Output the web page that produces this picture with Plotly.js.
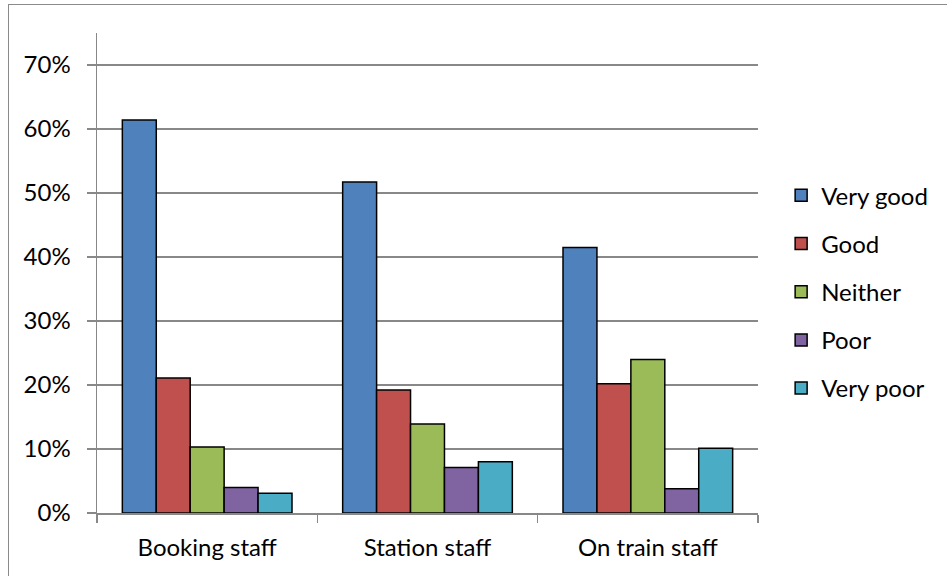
<!DOCTYPE html>
<html>
<head>
<meta charset="utf-8">
<script src="https://cdn.plot.ly/plotly-3.0.1.min.js"></script>
<style>
  html, body { margin: 0; padding: 0; background: #ffffff; overflow: hidden; }
  #chart { position: absolute; left: 0; top: 0; width: 947px; height: 576px; }
  #frame { position: absolute; left: 8px; top: 4px; width: 1000px; height: 700px;
           border-left: 1.5px solid #8a8a8a; border-top: 1.5px solid #8a8a8a;
           pointer-events: none; z-index: 5; }
</style>
</head>
<body>
<div id="chart"></div>
<div id="frame"></div>
<script>
const categories = ["Booking staff", "Station staff", "On train staff"];
const seriesNames = ["Very good", "Good", "Neither", "Poor", "Very poor"];
const veryGood = [0.614, 0.517, 0.415];
const good = [0.211, 0.192, 0.202];
const neither = [0.103, 0.139, 0.240];
const poor = [0.040, 0.071, 0.038];
const veryPoor = [0.031, 0.080, 0.101];
const yTickVals = [0, 0.1, 0.2, 0.3, 0.4, 0.5, 0.6, 0.7];
const yTickText = ["0%", "10%", "20%", "30%", "40%", "50%", "60%", "70%"];

const colors = ["#4F81BD", "#C0504D", "#9BBB59", "#8064A2", "#4BACC6"];
const seriesValues = [veryGood, good, neither, poor, veryPoor];

const FONT = "Lato, 'Open Sans', sans-serif";

const traces = seriesValues.map((vals, i) => ({
  type: "bar",
  name: seriesNames[i],
  x: categories,
  y: vals,
  legendgroup: "g" + i,
  marker: { color: colors[i], line: { color: "#000000", width: 1.5 } },
  hoverinfo: "skip"
}));

const layout = {
  width: 947,
  height: 576,
  margin: { l: 97, r: 189, t: 33, b: 63 },
  paper_bgcolor: "#ffffff",
  plot_bgcolor: "#ffffff",
  font: { family: FONT, size: 24, color: "#000000" },
  barmode: "group",
  bargap: 0.23,
  bargroupgap: 0,
  showlegend: true,
  legend: {
    x: 1.035, xanchor: "left",
    y: 0.461, yanchor: "middle",
    traceorder: "grouped",
    tracegroupgap: 14,
    font: { family: FONT, size: 24, color: "#000000" },
    bgcolor: "rgba(0,0,0,0)",
    itemwidth: 30
  },
  xaxis: {
    type: "category",
    tickson: "boundaries",
    ticks: "outside",
    ticklen: 8,
    tickwidth: 1.5,
    tickcolor: "#888888",
    showline: true,
    linecolor: "#888888",
    linewidth: 1.5,
    showgrid: false,
    zeroline: false,
    ticklabelstandoff: 13,
    tickfont: { family: FONT, size: 24, color: "#000000" }
  },
  yaxis: {
    range: [0, 0.75],
    tickvals: yTickVals,
    ticktext: yTickText,
    ticks: "outside",
    ticklen: 9,
    tickwidth: 1.5,
    tickcolor: "#888888",
    showline: true,
    linecolor: "#888888",
    linewidth: 1.5,
    showgrid: true,
    gridcolor: "#888888",
    gridwidth: 1.5,
    zeroline: false,
    ticklabelstandoff: 11,
    tickfont: { family: FONT, size: 24, color: "#000000" }
  }
};

Plotly.newPlot("chart", traces, layout, { displayModeBar: false, staticPlot: true });
</script>
</body>
</html>
